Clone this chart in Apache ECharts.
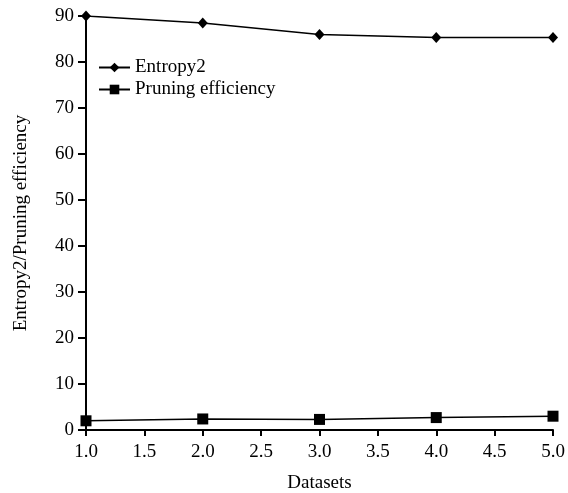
<!DOCTYPE html>
<html>
<head>
<meta charset="utf-8">
<script src="https://cdn.jsdelivr.net/npm/echarts@6/dist/echarts.min.js"></script>
<style>
  html, body { margin: 0; padding: 0; background: #fff; }
  #main { width: 568px; height: 493px; }
</style>
</head>
<body>
<div id="main"></div>
<script>
  // data
  const datasets = [1, 2, 3, 4, 5];
  const entropy2 = [90.0, 88.5, 86.0, 85.3, 85.3];
  const pruning = [2.0, 2.4, 2.3, 2.7, 3.0];

  const font = '"Liberation Serif", "Times New Roman", serif';

  const chart = echarts.init(document.getElementById('main'));
  chart.setOption({
    animation: false,
    color: ['#000', '#000'],
    textStyle: { fontFamily: font, color: '#000' },
    grid: { left: 86, right: 15, top: 16, bottom: 63, outerBoundsMode: 'none' },
    legend: {
      orient: 'vertical',
      left: 93,
      top: 53,
      itemWidth: 31,
      itemHeight: 12,
      itemGap: 3,
      textStyle: { fontFamily: font, fontSize: 19, color: '#000' },
      data: ['Entropy2', 'Pruning efficiency']
    },
    xAxis: {
      type: 'value',
      min: 1,
      max: 5,
      interval: 0.5,
      name: 'Datasets',
      nameLocation: 'middle',
      nameGap: 44,
      nameTextStyle: { fontFamily: font, fontSize: 19, color: '#000' },
      axisLine: { lineStyle: { color: '#000', width: 2 } },
      axisTick: { show: true, length: 6, lineStyle: { color: '#000', width: 2 } },
      axisLabel: {
        fontFamily: font, fontSize: 19, color: '#000', margin: 13,
        formatter: v => v.toFixed(1)
      },
      splitLine: { show: false }
    },
    yAxis: {
      type: 'value',
      min: 0,
      max: 90,
      interval: 10,
      name: 'Entropy2/Pruning efficiency',
      nameLocation: 'middle',
      nameGap: 55,
      nameTextStyle: { fontFamily: font, fontSize: 19, color: '#000' },
      axisLine: { show: true, lineStyle: { color: '#000', width: 2 } },
      axisTick: { show: true, length: 8, lineStyle: { color: '#000', width: 2 } },
      axisLabel: { fontFamily: font, fontSize: 19, color: '#000', margin: 12 },
      splitLine: { show: false }
    },
    series: [
      {
        name: 'Entropy2',
        type: 'line',
        symbol: 'diamond',
        symbolSize: [10, 11],
        lineStyle: { color: '#000', width: 1.5 },
        itemStyle: { color: '#000' },
        data: datasets.map((d, i) => [d, entropy2[i]])
      },
      {
        name: 'Pruning efficiency',
        type: 'line',
        symbol: 'rect',
        symbolSize: 11,
        lineStyle: { color: '#000', width: 1.5 },
        itemStyle: { color: '#000' },
        data: datasets.map((d, i) => [d, pruning[i]])
      }
    ]
  });
</script>
</body>
</html>
